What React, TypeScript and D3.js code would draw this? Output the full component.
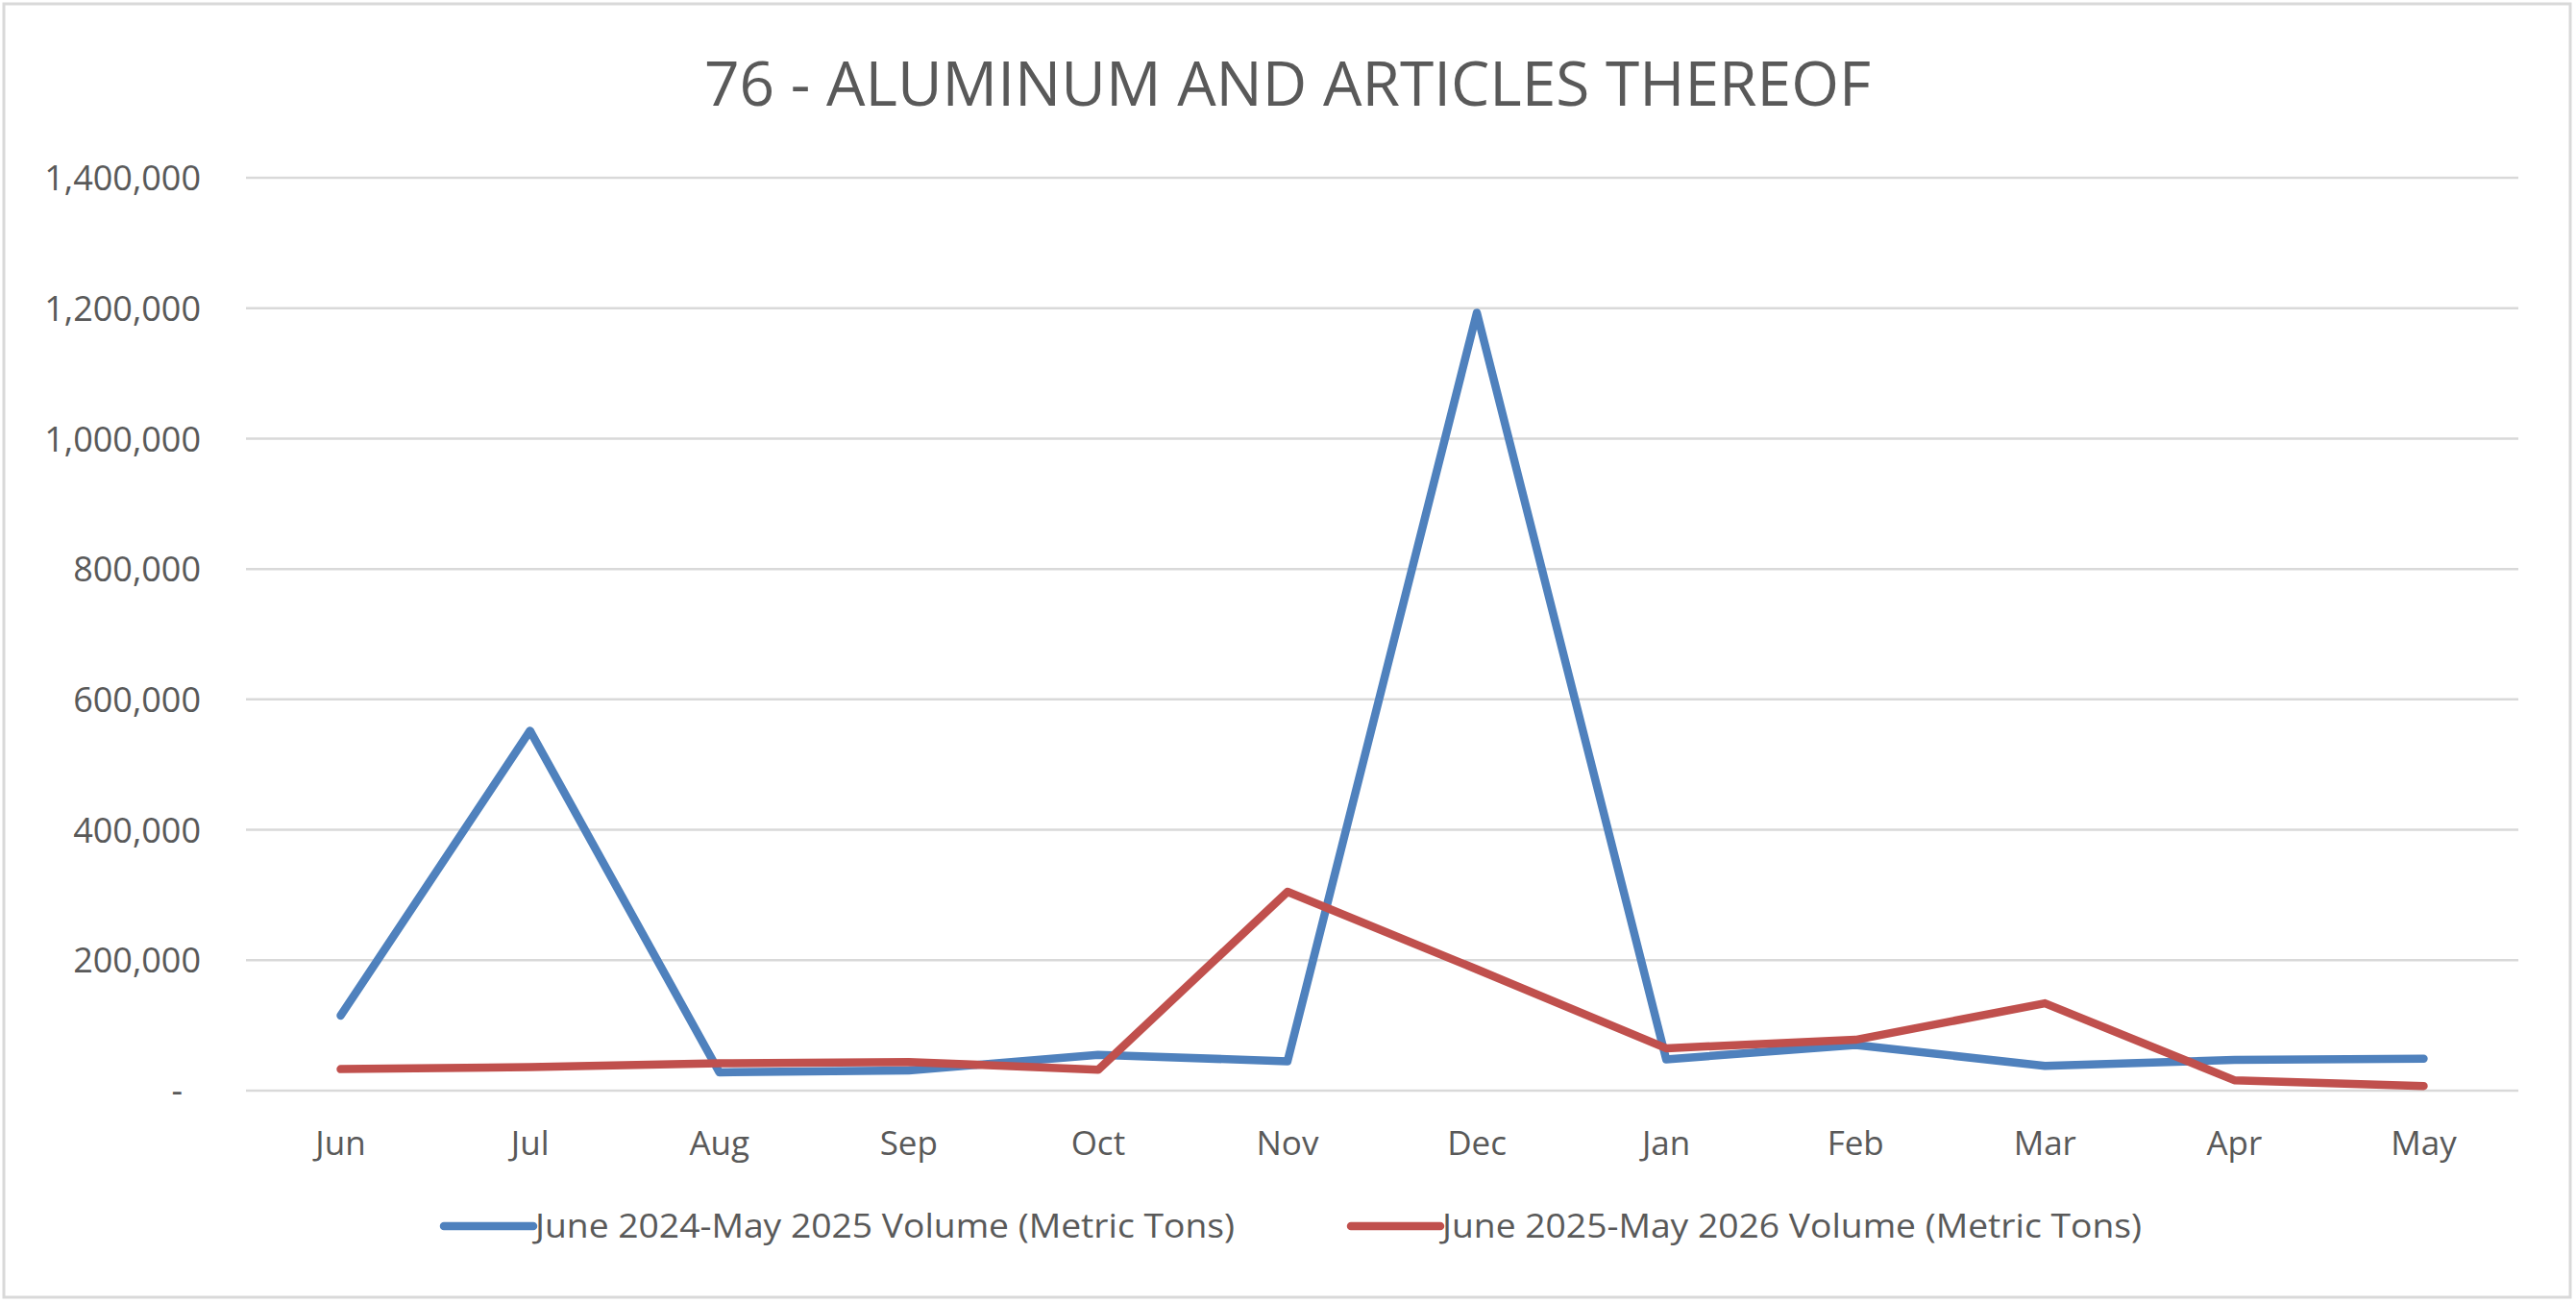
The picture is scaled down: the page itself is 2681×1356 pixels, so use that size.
import React, { useRef, useEffect } from 'react';
import { select, scaleLinear, scalePoint, line, axisLeft, format } from 'd3';

const months = ['Jun', 'Jul', 'Aug', 'Sep', 'Oct', 'Nov', 'Dec', 'Jan', 'Feb', 'Mar', 'Apr', 'May'];
const vol2024 = [115000, 552000, 28000, 31000, 55000, 45000, 1193000, 48000, 70000, 38000, 47000, 49000];
const vol2025 = [33000, 36000, 42000, 44000, 32000, 305000, 186000, 65000, 78000, 134000, 16000, 7000];
const yTicks = [0, 200000, 400000, 600000, 800000, 1000000, 1200000, 1400000];
const seriesNames = ['June 2024-May 2025 Volume (Metric Tons)', 'June 2025-May 2026 Volume (Metric Tons)'];

const W = 2681;
const H = 1356;
const BLUE = '#4F81BD';
const RED = '#C0504D';
const TXT = '#595959';
const FONT = '"Open Sans", sans-serif';

const App = () => {
  const svgRef = useRef<SVGSVGElement>(null);

  useEffect(() => {
    document.body.style.margin = '0';
    const svg = select(svgRef.current);
    svg.selectAll('*').remove();

    const left = 256, right = 2621, top = 185, bottom = 1135;

    const x = scalePoint<string>().domain(months).range([left, right]).padding(0.5);
    const y = scaleLinear().domain([0, 1400000]).range([bottom, top]);

    // outer border
    svg.append('rect')
      .attr('x', 4).attr('y', 4).attr('width', W - 10).attr('height', H - 10)
      .attr('fill', '#fff').attr('stroke', '#D9D9D9').attr('stroke-width', 3);

    svg.append('text')
      .attr('x', 1340).attr('y', 110)
      .attr('text-anchor', 'middle')
      .attr('font-family', FONT).attr('font-size', 64)
      .attr('fill', TXT)
      .attr('textLength', 1214).attr('lengthAdjust', 'spacingAndGlyphs')
      .text('76 - ALUMINUM AND ARTICLES THEREOF');

    // gridlines
    svg.append('g')
      .selectAll('line')
      .data(yTicks)
      .join('line')
      .attr('x1', left).attr('x2', right)
      .attr('y1', (d) => y(d)).attr('y2', (d) => y(d))
      .attr('stroke', '#D9D9D9').attr('stroke-width', 2.5);

    const fmt = format(',');
    const yAxis = axisLeft(y)
      .tickValues(yTicks)
      .tickSize(0)
      .tickPadding(0)
      .tickFormat((d) => (d === 0 ? '-' : fmt(d as number)));
    const gy = svg.append('g').attr('transform', 'translate(209,0)').call(yAxis);
    gy.select('.domain').remove();
    gy.selectAll('text')
      .attr('font-family', FONT).attr('font-size', 36).attr('fill', TXT)
      .attr('dy', '0.35em')
      .attr('dx', (d) => (d === 0 ? -19 : 0));

    svg.append('g')
      .selectAll('text')
      .data(months)
      .join('text')
      .attr('x', (d) => x(d))
      .attr('y', 1202)
      .attr('text-anchor', 'middle')
      .attr('font-family', FONT).attr('font-size', 35).attr('fill', TXT)
      .text((d) => d);

    const path = line<number>()
      .x((d, i) => x(months[i]) as number)
      .y((d) => y(d));

    [[vol2024, BLUE], [vol2025, RED]].forEach(([vals, color]) => {
      svg.append('path')
        .datum(vals as number[])
        .attr('d', path)
        .attr('fill', 'none')
        .attr('stroke', color as string)
        .attr('stroke-width', 8.5)
        .attr('stroke-linejoin', 'round')
        .attr('stroke-linecap', 'round');
    });

    // legend
    const legendX = [462, 1406];
    const legend = svg.append('g')
      .selectAll('g')
      .data(seriesNames)
      .join('g')
      .attr('transform', (d, i) => `translate(${legendX[i]},1276)`);
    legend.append('line')
      .attr('x1', 0).attr('x2', 93).attr('y1', 0).attr('y2', 0)
      .attr('stroke', (d, i) => (i === 0 ? BLUE : RED))
      .attr('stroke-width', 8.5)
      .attr('stroke-linecap', 'round');
    legend.append('text')
      .attr('x', 95).attr('y', 0).attr('dy', '0.35em')
      .attr('font-family', FONT).attr('font-size', 34).attr('fill', TXT)
      .attr('textLength', 728).attr('lengthAdjust', 'spacingAndGlyphs')
      .text((d) => d);
  }, []);

  return (
    <div>
      <svg ref={svgRef} width={W} height={H} style={{ display: 'block' }} />
    </div>
  );
};

export default App;
